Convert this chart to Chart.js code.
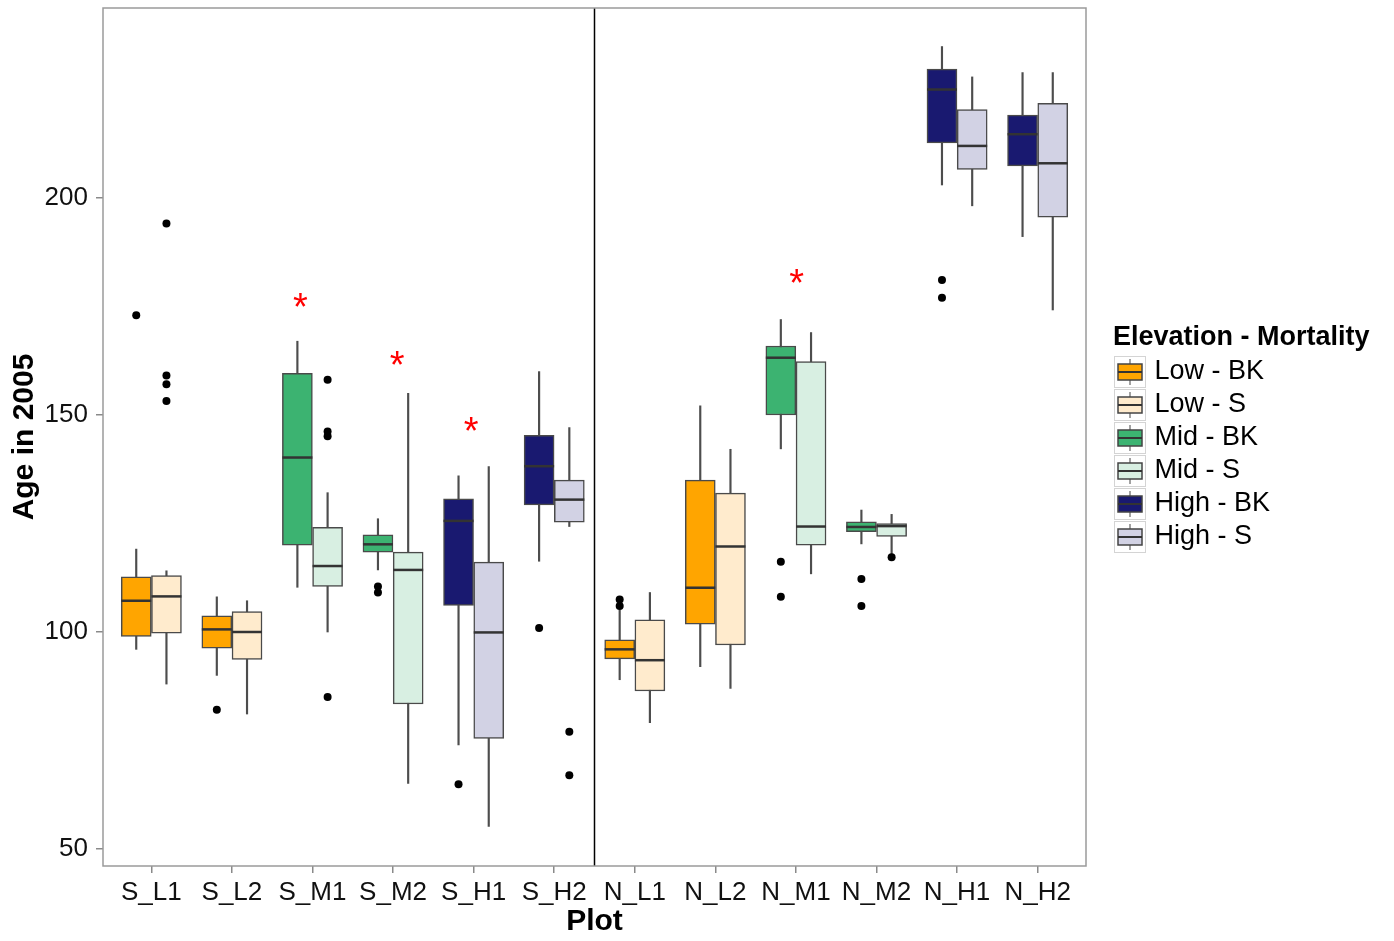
<!DOCTYPE html>
<html>
<head>
<meta charset="utf-8">
<title>Age in 2005 by plot</title>
<script src="https://cdn.jsdelivr.net/npm/chart.js@4.4.1/dist/chart.umd.min.js"></script>
<style>
  html, body { margin: 0; padding: 0; background: #fff; }
</style>
</head>
<body>
<canvas id="chart" width="1394" height="941"></canvas>
<script>
const plots = ['S_L1', 'S_L2', 'S_M1', 'S_M2', 'S_H1', 'S_H2', 'N_L1', 'N_L2', 'N_M1', 'N_M2', 'N_H1', 'N_H2'];
const groups = ['Low - BK', 'Low - S', 'Mid - BK', 'Mid - S', 'High - BK', 'High - S'];
const groupColors = ['#FFA500', '#FFEBCD', '#3CB371', '#D8EFE2', '#191970', '#D2D2E4'];

// which plots each group appears in (index into plots)
const groupPlots = [
  [0, 1, 6, 7], [0, 1, 6, 7],
  [2, 3, 8, 9], [2, 3, 8, 9],
  [4, 5, 10, 11], [4, 5, 10, 11]
];
// BK box left of the tick, S box right of it
const dodge = [-0.1875, 0.1875, -0.1875, 0.1875, -0.1875, 0.1875];

const whiskerLow = [
  [96.0, 90.0, 89.0, 92.0],
  [88.0, 81.1, 79.1, 87.0],
  [110.3, 114.3, 142.2, 120.3],
  [100.0, 65.1, 113.4, 118.0],
  [74.0, 116.3, 203.0, 191.1],
  [55.2, 124.3, 198.2, 174.2]
];
const q1 = [
  [99.0, 96.3, 93.8, 101.8],
  [99.7, 93.7, 86.4, 97.0],
  [120.0, 118.4, 150.0, 123.1],
  [110.5, 83.4, 120.0, 122.0],
  [106.1, 129.3, 212.7, 207.4],
  [75.5, 125.3, 206.6, 195.6]
];
const medians = [
  [107.2, 100.6, 96.0, 110.2],
  [108.2, 100.0, 93.5, 119.7],
  [140.2, 120.2, 163.2, 124.2],
  [115.2, 114.3, 124.3, 124.4],
  [125.6, 138.2, 225.0, 214.7],
  [99.9, 130.5, 212.0, 208.0]
];
const q3 = [
  [112.7, 103.7, 98.2, 135.0],
  [113.0, 104.7, 102.8, 132.0],
  [159.6, 122.4, 165.9, 125.4],
  [124.1, 118.4, 162.3, 125.0],
  [130.7, 145.3, 229.7, 219.1],
  [116.1, 135.0, 220.4, 221.8]
];
const whiskerHigh = [
  [119.1, 108.1, 105.1, 152.1],
  [114.1, 107.2, 109.1, 142.1],
  [167.0, 126.1, 172.0, 128.1],
  [132.1, 155.0, 169.0, 127.1],
  [136.0, 160.0, 234.9, 228.9],
  [138.1, 147.1, 227.9, 228.9]
];
const outliers = [
  [[173.0], [82.1], [107.5, 106.0], []],
  [[194.1, 159.1, 157.1, 153.2], [], [], []],
  [[], [110.5, 109.1], [116.2, 108.1], [112.2, 106.0]],
  [[158.1, 146.2, 145.1, 85.0], [], [], [117.2]],
  [[64.9], [100.9], [181.1, 177.0], []],
  [[], [77.0, 67.0], [], []]
];

// red significance marks
const starX = [1.85, 3.05, 3.97, 8.01];
const starY = [176.5, 163.2, 148.0, 182.0];

const yTicks = [50, 100, 150, 200];
const yMin = 46.08, yMax = 243.78;
const divideAt = 5.5;

Chart.defaults.font.family = "'Liberation Sans', Arial, sans-serif";

function makeKey(color) {
  const c = document.createElement('canvas');
  c.width = 32; c.height = 32;
  const g = c.getContext('2d');
  g.fillStyle = '#fff';
  g.fillRect(0, 0, 32, 32);
  g.strokeStyle = '#d4d4d4';
  g.lineWidth = 1;
  g.strokeRect(0.5, 0.5, 31, 31);
  g.strokeStyle = '#444';
  g.beginPath(); g.moveTo(16, 3); g.lineTo(16, 29); g.stroke();
  g.fillStyle = color;
  g.fillRect(4, 8, 24, 16);
  g.lineWidth = 1.5;
  g.strokeRect(4, 8, 24, 16);
  g.lineWidth = 2;
  g.strokeStyle = '#333';
  g.beginPath(); g.moveTo(4, 16); g.lineTo(28, 16); g.stroke();
  return c;
}

const whiskerData = [], medianData = [], outlierData = [];
groups.forEach((g, gi) => {
  groupPlots[gi].forEach((p, k) => {
    const x = p + dodge[gi];
    whiskerData.push({ x, y: [whiskerLow[gi][k], whiskerHigh[gi][k]] });
    medianData.push({ x, y: medians[gi][k] });
    outliers[gi][k].forEach(v => outlierData.push({ x, y: v }));
  });
});

const boxSets = groups.map((g, gi) => ({
  type: 'bar',
  label: g,
  isBox: true,
  keyIcon: makeKey(groupColors[gi]),
  data: groupPlots[gi].map((p, k) => ({ x: p + dodge[gi], y: [q1[gi][k], q3[gi][k]] })),
  backgroundColor: groupColors[gi],
  borderColor: '#4a4a4a',
  borderWidth: 1.5,
  borderSkipped: false,
  barThickness: 30,
  grouped: false,
  order: 2
}));

const framePlugin = {
  id: 'frame',
  afterDatasetsDraw(chart) {
    const { ctx, chartArea: a, scales: { x, y } } = chart;
    ctx.save();
    // divider between the S and N plots
    ctx.strokeStyle = '#000';
    ctx.lineWidth = 1.5;
    const dx = x.getPixelForValue(divideAt);
    ctx.beginPath(); ctx.moveTo(dx, a.top); ctx.lineTo(dx, a.bottom); ctx.stroke();
    // panel border
    ctx.strokeStyle = '#9a9a9a';
    ctx.lineWidth = 1.5;
    ctx.strokeRect(a.left, a.top, a.right - a.left, a.bottom - a.top);
    // asterisks
    ctx.fillStyle = '#FF0000';
    ctx.font = "38px 'Liberation Sans', Arial, sans-serif";
    ctx.textAlign = 'center';
    ctx.textBaseline = 'alphabetic';
    const m = ctx.measureText('*');
    const shift = (m.actualBoundingBoxAscent - m.actualBoundingBoxDescent) / 2;
    starX.forEach((sx, i) => {
      ctx.fillText('*', x.getPixelForValue(sx), y.getPixelForValue(starY[i]) + shift);
    });
    ctx.restore();
  }
};

const chart = new Chart(document.getElementById('chart'), {
  type: 'bar',
  data: {
    datasets: [
      {
        type: 'bar',
        label: 'whiskers',
        data: whiskerData,
        backgroundColor: '#4d4d4d',
        barThickness: 1.5,
        grouped: false,
        order: 3
      },
      ...boxSets,
      {
        type: 'scatter',
        label: 'median',
        data: medianData,
        pointStyle: 'line',
        radius: 15,
        hoverRadius: 15,
        borderColor: '#333',
        borderWidth: 2.5,
        order: 1
      },
      {
        type: 'scatter',
        label: 'outliers',
        data: outlierData,
        pointStyle: 'circle',
        radius: 4,
        hoverRadius: 4,
        backgroundColor: '#000',
        borderColor: '#000',
        borderWidth: 0,
        order: 0
      }
    ]
  },
  options: {
    responsive: false,
    animation: false,
    events: [],
    layout: { autoPadding: false, padding: { left: 0, top: 8, right: 0, bottom: 0 } },
    scales: {
      x: {
        type: 'linear',
        min: -0.6,
        max: 11.6,
        offset: false,
        afterBuildTicks: axis => { axis.ticks = plots.map((p, i) => ({ value: i })); },
        afterFit: axis => { axis.height = 75; axis.paddingLeft = 0; axis.paddingRight = 0; },
        ticks: {
          autoSkip: false,
          maxRotation: 0,
          padding: 4,
          color: '#111',
          font: { size: 26 },
          callback: v => plots[Math.round(v)]
        },
        grid: { offset: false, drawOnChartArea: false, drawTicks: true, tickLength: 7, color: '#8a8a8a', lineWidth: 1.5 },
        border: { display: false },
        title: { display: true, text: 'Plot', color: '#000', font: { size: 30, weight: 'bold' }, padding: { top: 0, bottom: 1 } }
      },
      y: {
        min: yMin,
        max: yMax,
        afterBuildTicks: axis => { axis.ticks = yTicks.map(v => ({ value: v })); },
        afterFit: axis => { axis.width = 103; axis.paddingTop = 0; axis.paddingBottom = 0; },
        ticks: { padding: 8, color: '#111', font: { size: 26 } },
        grid: { drawOnChartArea: false, drawTicks: true, tickLength: 7, color: '#8a8a8a', lineWidth: 1.5 },
        border: { display: false },
        title: { display: true, text: 'Age in 2005', color: '#000', font: { size: 30, weight: 'bold' }, padding: { top: 7, bottom: 0 } }
      },
      gap: {
        type: 'linear',
        position: 'right',
        display: true,
        grid: { display: false },
        border: { display: false },
        ticks: { display: false },
        afterFit: axis => { axis.width = 27; axis.paddingTop = 0; axis.paddingBottom = 0; }
      }
    },
    plugins: {
      tooltip: { enabled: false },
      legend: {
        position: 'right',
        align: 'center',
        fullSize: false,
        title: {
          display: true,
          text: 'Elevation - Mortality',
          position: 'start',
          color: '#000',
          font: { size: 27, weight: 'bold', lineHeight: 1 },
          padding: { top: 7, bottom: 1 }
        },
        labels: {
          usePointStyle: true,
          pointStyleWidth: 22,
          padding: 6,
          color: '#000',
          font: { size: 27 },
          generateLabels: ch => Chart.defaults.plugins.legend.labels.generateLabels(ch)
            .filter(it => ch.data.datasets[it.datasetIndex].isBox)
            .map(it => Object.assign(it, { pointStyle: ch.data.datasets[it.datasetIndex].keyIcon }))
        }
      }
    }
  },
  plugins: [framePlugin]
});

// vertical legends ignore the title width, so widen the box to hold it
const legendFit = chart.legend.fit;
chart.legend.fit = function () {
  legendFit.call(this);
  this.width = Math.max(this.width, chart.width - 1113);
};
chart.update();
</script>
</body>
</html>
